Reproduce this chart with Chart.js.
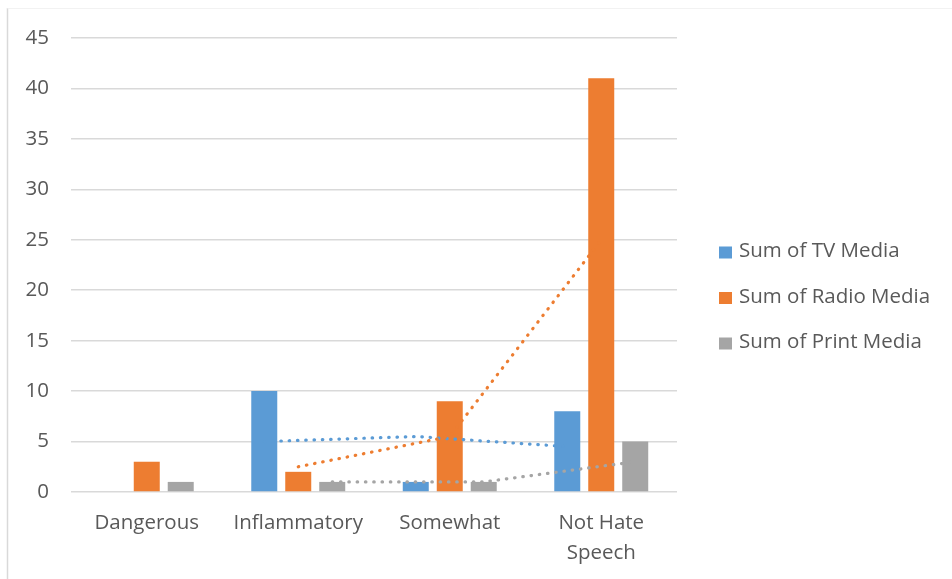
<!DOCTYPE html>
<html>
<head>
<meta charset="utf-8">
<script src="https://cdn.jsdelivr.net/npm/chart.js@4/dist/chart.umd.min.js"></script>
<style>
  html, body { margin: 0; padding: 0; background: #ffffff; }
  #wrap { width: 952px; height: 579px; position: relative; }
</style>
</head>
<body>
<div id="wrap"><canvas id="chart" width="952" height="579"></canvas></div>
<script>
// Categories and series values
const categories = ['Dangerous', 'Inflammatory', 'Somewhat', ['Not Hate', 'Speech']];
const seriesNames = ['Sum of TV Media', 'Sum of Radio Media', 'Sum of Print Media'];
const tvMedia = [0, 10, 1, 8];
const radioMedia = [3, 2, 9, 41];
const printMedia = [1, 1, 1, 5];

// Two-period moving-average trendlines (from the second category onward)
const tvTrend = [5, 5.5, 4.5];
const radioTrend = [2.5, 5.5, 25];
const printTrend = [1, 1, 3];
const trendStart = 1;

// Value axis ticks
const yMin = 0;
const yMax = 45;
const yStep = 5;

const colors = ['#5B9BD5', '#ED7D31', '#A5A5A5'];
const textColor = '#595959';
const gridColor = '#D9D9D9';
const fontFamily = '"Open Sans", Lato, sans-serif';
const fontSize = 20.5;

const barSeries = [tvMedia, radioMedia, printMedia];
const trendSeries = [tvTrend, radioTrend, printTrend];

const datasets = barSeries.map((vals, s) => ({
  type: 'bar',
  label: seriesNames[s],
  data: vals,
  backgroundColor: colors[s],
  borderWidth: 0,
  categoryPercentage: 0.673,
  barPercentage: 0.765
}));

// Dotted trendlines through each series' own bar centres, drawn over the bars
const trendlines = {
  id: 'trendlines',
  afterDatasetsDraw(chart) {
    const ctx = chart.ctx;
    const y = chart.scales.y;
    const a = chart.chartArea;
    ctx.save();
    ctx.beginPath();
    ctx.rect(a.left, a.top, a.right - a.left, a.bottom - a.top);
    ctx.clip();
    ctx.lineWidth = 3.2;
    ctx.lineCap = 'round';
    ctx.setLineDash([0.5, 7.8]);
    trendSeries.forEach((vals, s) => {
      const bars = chart.getDatasetMeta(s).data;
      ctx.strokeStyle = colors[s];
      ctx.beginPath();
      vals.forEach((v, i) => {
        const px = bars[i + trendStart].x;
        const py = y.getPixelForValue(v);
        if (i === 0) ctx.moveTo(px, py); else ctx.lineTo(px, py);
      });
      ctx.stroke();
    });
    ctx.restore();
  }
};

// Legend beside the plot, one entry per bar series
const sideLegend = {
  id: 'sideLegend',
  afterDraw(chart) {
    const ctx = chart.ctx;
    const area = chart.chartArea;
    const boxX = area.right + 42;
    const midY = area.top + 259;
    const gap = 45.5;
    ctx.save();
    ctx.font = fontSize + 'px ' + fontFamily;
    ctx.textBaseline = 'middle';
    ctx.textAlign = 'left';
    chart.data.datasets.forEach((d, i, all) => {
      const cy = midY + (i - (all.length - 1) / 2) * gap;
      ctx.fillStyle = d.backgroundColor;
      ctx.fillRect(boxX, cy - 5, 13, 12);
      ctx.fillStyle = textColor;
      ctx.fillText(d.label, boxX + 20, cy);
    });
    ctx.restore();
  }
};

// Thin frame on the left and top edges
const frame = {
  id: 'frame',
  beforeDraw(chart) {
    const ctx = chart.ctx;
    ctx.save();
    ctx.strokeStyle = '#D9D9D9';
    ctx.lineWidth = 1.5;
    ctx.beginPath();
    ctx.moveTo(7.5, 8);
    ctx.lineTo(7.5, chart.height);
    ctx.stroke();
    ctx.strokeStyle = '#F2F2F2';
    ctx.lineWidth = 1;
    ctx.beginPath();
    ctx.moveTo(7.5, 8.5);
    ctx.lineTo(chart.width, 8.5);
    ctx.stroke();
    ctx.restore();
  }
};

new Chart(document.getElementById('chart'), {
  type: 'bar',
  data: { labels: categories, datasets: datasets },
  options: {
    responsive: false,
    animation: false,
    layout: { padding: { left: 0, right: 275, top: 38, bottom: 0 } },
    plugins: {
      legend: { display: false },
      tooltip: { enabled: false }
    },
    scales: {
      x: {
        offset: true,
        grid: { display: false, drawTicks: false },
        border: { display: false },
        ticks: {
          color: textColor,
          font: { family: fontFamily, size: fontSize, lineHeight: 1.42 },
          padding: 17,
          maxRotation: 0,
          autoSkip: false
        },
        afterFit(scale) { scale.height = 87; }
      },
      y: {
        min: yMin,
        max: yMax,
        grid: { color: gridColor, lineWidth: 1.5, drawTicks: false },
        border: { display: false },
        ticks: {
          stepSize: yStep,
          color: textColor,
          font: { family: fontFamily, size: fontSize },
          padding: 22
        },
        afterFit(scale) { scale.width = 71; }
      }
    }
  },
  plugins: [frame, trendlines, sideLegend]
});
</script>
</body>
</html>
